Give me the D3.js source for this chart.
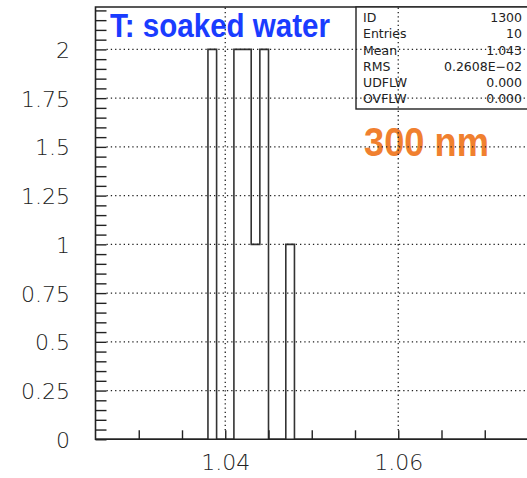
<!DOCTYPE html>
<html>
<head>
<meta charset="utf-8"/>
<title>T: soaked water</title>
<script src="https://d3js.org/d3.v7.min.js"></script>
<style>
  body { margin: 0; background: #fff; }
  .lbl { font-family: "DejaVu Sans", sans-serif; font-weight: 200; fill: #222; }
  .stat { font-family: "DejaVu Sans", sans-serif; font-size: 12.5px; fill: #222; }
</style>
</head>
<body>
<svg width="527" height="478"></svg>
<script>
// histogram 1300 : 50 bins from 1.025 to 1.075
var binLow = 1.025;
var binWidth = 0.001;
var counts = [0,0,0,0,0, 0,0,0,0,0,
              0,0,0,2,0, 0,2,2,1,2,
              0,0,1,0,0, 0,0,0,0,0,
              0,0,0,0,0, 0,0,0,0,0,
              0,0,0,0,0, 0,0,0,0,0];

var xLabelTicks = [1.04, 1.06];
var yLabelTicks = [0, 0.25, 0.5, 0.75, 1, 1.25, 1.5, 1.75, 2];
var yLabels = ["0", "0.25", "0.5", "0.75", "1", "1.25", "1.5", "1.75", "2"];

var statLabels = ["ID", "Entries", "Mean", "RMS", "UDFLW", "OVFLW"];
var statValues = ["1300", "10", "1.043", "0.2608E\u221202", "0.000", "0.000"];

var title = "T: soaked water";
var note = "300 nm";

var fL = 95.5, fR = 528, fT = 7, fB = 439.3;

var svg = d3.select("svg");

var x = d3.scaleLinear().domain([1.025, 1.075]).range([fL, fR]);
var y = d3.scaleLinear().domain([0, 2.2175]).range([fB, fT]);

// histogram outline (steps)
var pts = [[binLow, 0]];
counts.forEach(function(c, i) {
  pts.push([binLow + i * binWidth, c]);
  pts.push([binLow + (i + 1) * binWidth, c]);
});
pts.push([binLow + counts.length * binWidth, 0]);

svg.append("path")
  .attr("d", d3.line().x(function(d){ return x(d[0]); }).y(function(d){ return y(d[1]); })(pts))
  .attr("fill", "none")
  .attr("stroke", "#333")
  .attr("stroke-width", 1.6);

// frame
svg.append("path")
  .attr("d", "M" + fR + "," + fT + "H" + fL + "V" + fB + "H" + fR)
  .attr("fill", "none").attr("stroke", "#222").attr("stroke-width", 1.6);

// minor ticks
var yMinor = d3.range(0, 2.2001, 0.05);
svg.append("g").attr("transform", "translate(" + fL + ",0)")
  .call(d3.axisLeft(y).tickValues(yMinor).tickSize(-11).tickFormat(""))
  .call(function(g){ g.select(".domain").remove(); g.selectAll("line").attr("stroke", "#222").attr("stroke-width", 1.4); });

var xMinor = d3.range(1.03, 1.0751, 0.005);
svg.append("g").attr("transform", "translate(0," + fB + ")")
  .call(d3.axisBottom(x).tickValues(xMinor).tickSize(-9).tickFormat(""))
  .call(function(g){ g.select(".domain").remove(); g.selectAll("line").attr("stroke", "#222").attr("stroke-width", 1.4); });

// tick labels
svg.append("g").attr("transform", "translate(70,0)")
  .call(d3.axisLeft(y).tickValues(yLabelTicks).tickSize(0).tickPadding(0)
    .tickFormat(function(d, i){ return yLabels[i]; }))
  .call(function(g){
    g.select(".domain").remove();
    g.selectAll("text").attr("class", "lbl").attr("font-size", 22).attr("dy", "0.36em");
  });

svg.append("g").attr("transform", "translate(0,470)")
  .call(d3.axisBottom(x).tickValues(xLabelTicks).tickSize(0).tickPadding(0)
    .tickFormat(d3.format(".2f")))
  .call(function(g){
    g.select(".domain").remove();
    g.selectAll("text").attr("class", "lbl").attr("font-size", 22).attr("dy", "0");
  });

// title and note
svg.append("text")
  .attr("x", 110).attr("y", 37)
  .attr("font-family", "'Liberation Sans', Arial, sans-serif")
  .attr("font-weight", "bold").attr("font-size", 34)
  .attr("fill", "#1a3cff")
  .attr("textLength", 220).attr("lengthAdjust", "spacingAndGlyphs")
  .text(title);

svg.append("text")
  .attr("x", 364).attr("y", 156)
  .attr("font-family", "'Liberation Sans', Arial, sans-serif")
  .attr("font-weight", "bold").attr("font-size", 41)
  .attr("fill", "#f0802f")
  .attr("textLength", 125).attr("lengthAdjust", "spacingAndGlyphs")
  .text(note);

// stats box
var box = svg.append("g");
box.append("rect")
  .attr("x", 356).attr("y", fT).attr("width", 200).attr("height", 102)
  .attr("fill", "#fff").attr("stroke", "#222").attr("stroke-width", 1.4);
statLabels.forEach(function(s, i) {
  var ty = 17.4 + i * 16.3;
  box.append("text").attr("class", "stat").attr("x", 363).attr("y", ty).attr("dy", "0.36em").text(s);
  box.append("text").attr("class", "stat").attr("x", 522).attr("y", ty).attr("dy", "0.36em")
    .attr("text-anchor", "end").text(statValues[i]);
});

// dotted grid drawn on top
var grid = svg.append("g").attr("stroke", "#222").attr("stroke-width", 1.3).attr("stroke-dasharray", "1.3,3");
grid.selectAll(".gy").data(yLabelTicks.filter(function(d){ return d > 0; })).enter()
  .append("line")
  .attr("x1", fL + 11).attr("x2", fR)
  .attr("y1", function(d){ return y(d); }).attr("y2", function(d){ return y(d); });
grid.selectAll(".gx").data(xLabelTicks).enter()
  .append("line")
  .attr("x1", function(d){ return x(d); }).attr("x2", function(d){ return x(d); })
  .attr("y1", fB - 9).attr("y2", fT);
</script>
</body>
</html>
